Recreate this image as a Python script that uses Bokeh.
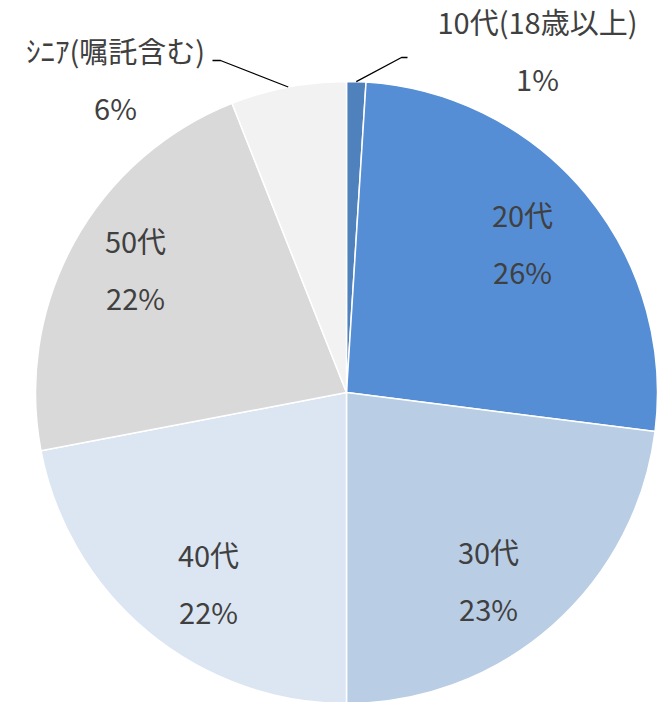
import math
from bokeh.plotting import figure
from bokeh.models import ColumnDataSource, Range1d
from bokeh.core.properties import value
from bokeh.embed import file_html
from bokeh.resources import INLINE

categories = ["10代(18歳以上)", "20代", "30代", "40代", "50代", "ｼﾆｱ(嘱託含む)"]
percents = [1, 26, 23, 22, 22, 6]
colors = ["#4F81BD", "#558ED5", "#B9CDE5", "#DCE6F2", "#D9D9D9", "#F2F2F2"]
outside = [True, False, False, False, False, True]

W, H = 661, 702
cx, cy, R = 346, H - 392, 311
font = value("Noto Sans CJK JP")
fs = "29px"
tcol = "#404040"
gap = 57

total = sum(percents)
starts, ends, mids = [], [], []
cum = 0
for v in percents:
    a0 = math.pi / 2 - 2 * math.pi * (cum + v) / total
    a1 = math.pi / 2 - 2 * math.pi * cum / total
    starts.append(a0)
    ends.append(a1)
    mids.append((a0 + a1) / 2)
    cum += v

p = figure(width=W, height=H, output_backend="svg", toolbar_location=None,
           x_range=Range1d(0, W), y_range=Range1d(0, H), min_border=0)
p.axis.visible = False
p.grid.visible = False
p.outline_line_color = None
p.background_fill_color = "white"
p.border_fill_color = "white"

src = ColumnDataSource(dict(x=[cx] * 6, y=[cy] * 6, s=starts, e=ends, c=colors))
p.wedge(x="x", y="y", radius=R, start_angle="s", end_angle="e", fill_color="c",
        line_color="white", line_width=1.5, source=src)

# inside label placement (label-box centre offsets from the pie centre, px)
inside_offset = {1: (176, 150), 2: (142, -187), 3: (-138, -190), 4: (-211, 124)}
ix, iy1, iy2, itxt1, itxt2 = [], [], [], [], []
for i, (dx, dy) in inside_offset.items():
    x = cx + dx
    y = cy + dy
    ix.append(x)
    iy1.append(y + gap / 2)
    iy2.append(y - gap / 2)
    itxt1.append(categories[i])
    itxt2.append(f"{percents[i]}%")
p.text(x=ix, y=iy1, text=itxt1, text_font=font, text_font_size=fs, text_color=tcol,
       text_align="center", text_baseline="middle")
p.text(x=ix, y=iy2, text=itxt2, text_font=font, text_font_size=fs, text_color=tcol,
       text_align="center", text_baseline="middle")

# outside labels with leader lines
label_pos = {0: (537, H - 20), 5: (115, H - 49)}
elbow = {0: [(401, H - 57), (407, H - 57)], 5: [(220, H - 60), (212, H - 60)]}
for i, (lx, ly) in label_pos.items():
    m = mids[i]
    sx = cx + R * math.cos(m)
    sy = cy + R * math.sin(m)
    xs = [sx] + [e[0] for e in elbow[i]]
    ys = [sy] + [e[1] for e in elbow[i]]
    p.line(xs, ys, line_color="black", line_width=1.3)
    p.text(x=[lx], y=[ly], text=[categories[i]], text_font=font, text_font_size=fs,
           text_color=tcol, text_align="center", text_baseline="middle")
    p.text(x=[lx], y=[ly - gap], text=[f"{percents[i]}%"], text_font=font, text_font_size=fs,
           text_color=tcol, text_align="center", text_baseline="middle")

open("out.html", "w").write(file_html(p, INLINE))
